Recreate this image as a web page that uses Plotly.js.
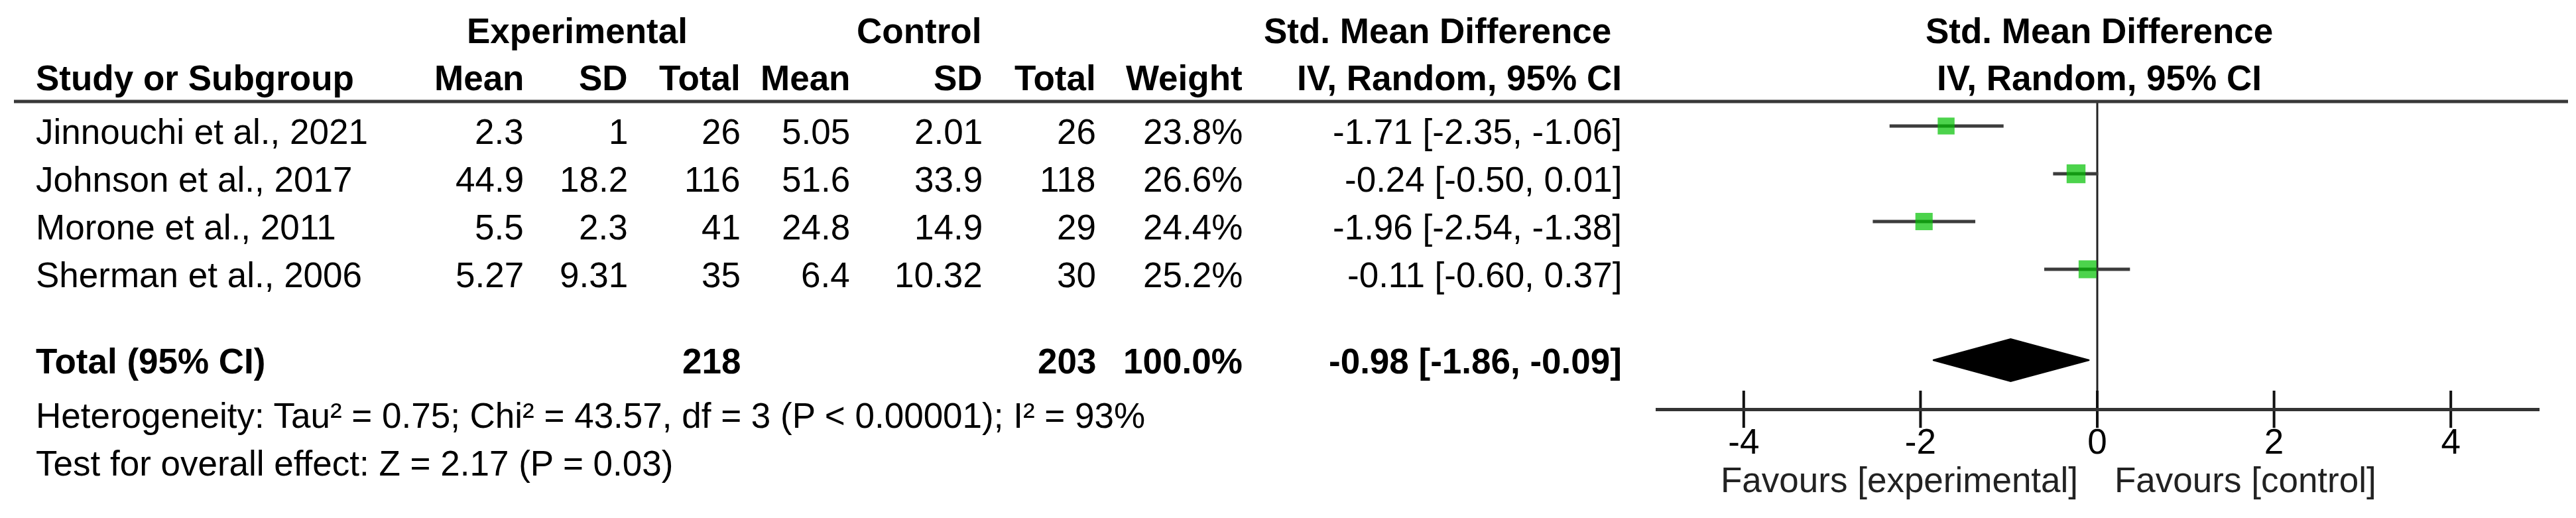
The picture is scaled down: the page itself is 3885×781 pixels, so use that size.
<!DOCTYPE html>
<html>
<head>
<meta charset="utf-8">
<script src="https://cdn.plot.ly/plotly-3.0.1.min.js"></script>
<style>html,body{margin:0;padding:0;background:#fff;}#chart{width:3885px;height:781px;}</style>
</head>
<body>
<div id="chart"></div>
<script>
// ---------- data ----------
const studies   = ['Jinnouchi et al., 2021', 'Johnson et al., 2017', 'Morone et al., 2011', 'Sherman et al., 2006'];
const expMean   = [2.3, 44.9, 5.5, 5.27];
const expSD     = [1, 18.2, 2.3, 9.31];
const expN      = [26, 116, 41, 35];
const ctlMean   = [5.05, 51.6, 24.8, 6.4];
const ctlSD     = [2.01, 33.9, 14.9, 10.32];
const ctlN      = [26, 118, 29, 30];
const weights   = [23.8, 26.6, 24.4, 25.2];
const smd       = [-1.71, -0.24, -1.96, -0.11];
const ciLow     = [-2.35, -0.50, -2.54, -0.60];
const ciHigh    = [-1.06, 0.01, -1.38, 0.37];
const totalExpN = 218;
const totalCtlN = 203;
const totalWeight = 100.0;
const totalSMD  = -0.98;
const totalLow  = -1.86;
const totalHigh = -0.09;
const heterogeneityText = 'Heterogeneity: Tau² = 0.75; Chi² = 43.57, df = 3 (P < 0.00001); I² = 93%';
const overallText = 'Test for overall effect: Z = 2.17 (P = 0.03)';
const tickVals  = [-4, -2, 0, 2, 4];
const tickText  = ['-4', '-2', '0', '2', '4'];
const favourLeft = 'Favours [experimental]';
const favourRight = 'Favours [control]';

// ---------- layout constants ----------
const W = 3885, H = 781;
const FONT = 'Liberation Sans, Arial, Helvetica, sans-serif';
const FS = 53;
const row0 = 190, rowStep = 72, textOff = 8;
const totalY = 543;
const headerLineY = 153;
const axisY = 617;
const rowY = studies.map((_, i) => row0 + i * rowStep);

const fmt2 = v => (v < 0 ? '-' : '') + Math.abs(v).toFixed(2);
const ci = (e, l, h) => fmt2(e) + ' [' + fmt2(l) + ', ' + fmt2(h) + ']';

const annotations = [];
function ann(text, x, y, anchor, bold, color) {
  annotations.push({
    text: bold ? '<b>' + text + '</b>' : text,
    x: x / W, xref: 'paper', y: y, yref: 'y',
    xanchor: anchor, yanchor: 'middle', showarrow: false,
    font: {family: FONT, size: FS, color: color || '#000'}
  });
}

// headers
const h1 = 46, h2 = 117;
ann('Experimental', 870, h1, 'center', true);
ann('Control', 1386, h1, 'center', true);
ann('Std. Mean Difference', 2168, h1, 'center', true);
ann('Std. Mean Difference', 3166, h1, 'center', true);
ann('Study or Subgroup', 52, h2, 'left', true);
ann('Mean', 792, h2, 'right', true);
ann('SD', 949, h2, 'right', true);
ann('Total', 1119, h2, 'right', true);
ann('Mean', 1284, h2, 'right', true);
ann('SD', 1484, h2, 'right', true);
ann('Total', 1655, h2, 'right', true);
ann('Weight', 1876, h2, 'right', true);
ann('IV, Random, 95% CI', 2448, h2, 'right', true);
ann('IV, Random, 95% CI', 3166, h2, 'center', true);

// study rows
studies.forEach((s, i) => {
  const y = rowY[i] + textOff;
  ann(s, 52, y, 'left');
  ann(String(expMean[i]), 792, y, 'right');
  ann(String(expSD[i]), 949, y, 'right');
  ann(String(expN[i]), 1119, y, 'right');
  ann(String(ctlMean[i]), 1284, y, 'right');
  ann(String(ctlSD[i]), 1484, y, 'right');
  ann(String(ctlN[i]), 1655, y, 'right');
  ann(weights[i].toFixed(1) + '%', 1876, y, 'right');
  ann(ci(smd[i], ciLow[i], ciHigh[i]), 2448, y, 'right');
});

// total row
ann('Total (95% CI)', 52, totalY + 1, 'left', true);
ann(String(totalExpN), 1119, totalY + 1, 'right', true);
ann(String(totalCtlN), 1655, totalY + 1, 'right', true);
ann(totalWeight.toFixed(1) + '%', 1876, totalY + 1, 'right', true);
ann(ci(totalSMD, totalLow, totalHigh), 2448, totalY + 1, 'right', true);

ann(heterogeneityText, 52, 626, 'left');
ann(overallText, 52, 698, 'left');

ann(favourLeft, 3136, 723, 'right', false, '#222');
ann(favourRight, 3187, 723, 'left', false, '#222');

// ---------- traces ----------
const traces = [];
// zero line
traces.push({x: [0, 0], y: [headerLineY, axisY], mode: 'lines', line: {color: '#222', width: 3}, hoverinfo: 'skip'});
// CI lines
const ciX = [], ciY = [];
studies.forEach((_, i) => { ciX.push(ciLow[i], ciHigh[i], null); ciY.push(rowY[i], rowY[i], null); });
traces.push({x: ciX, y: ciY, mode: 'lines', line: {color: '#3c3c3c', width: 5}, hoverinfo: 'skip'});
// squares
traces.push({x: smd, y: rowY, mode: 'markers',
  marker: {symbol: 'square', color: '#00c000', size: weights.map(w => w * 1.07), line: {width: 0}}, hoverinfo: 'skip'});
// diamond
const dh = 32;
traces.push({x: [totalLow, totalSMD, totalHigh, totalSMD, totalLow],
  y: [totalY, totalY - dh, totalY, totalY + dh, totalY],
  mode: 'lines', fill: 'toself', fillcolor: '#000', line: {color: '#000', width: 2}, hoverinfo: 'skip'});
// tick marks crossing the axis
traces.push({x: tickVals, y: tickVals.map(() => axisY), mode: 'markers',
  marker: {symbol: 'line-ns', size: 40, line: {width: 4, color: '#111'}}, hoverinfo: 'skip'});

const xDomLo = 2496.5 / W, xDomHi = 3829.5 / W;

const layout = {
  width: W, height: H, autosize: false,
  margin: {l: 0, r: 0, t: 0, b: 0, pad: 0},
  paper_bgcolor: '#fff', plot_bgcolor: 'rgba(0,0,0,0)',
  showlegend: false,
  xaxis: {
    domain: [xDomLo, xDomHi], range: [-5, 5], anchor: 'free', position: 1 - axisY / H,
    showline: true, linewidth: 5, linecolor: '#333',
    ticks: '', 
    tickvals: tickVals, ticktext: tickText,
    tickfont: {family: FONT, size: FS, color: '#000'},
    showgrid: false, zeroline: false, fixedrange: true
  },
  yaxis: {domain: [0, 1], range: [H, 0], visible: false, showgrid: false, zeroline: false, fixedrange: true},
  shapes: [{type: 'line', xref: 'paper', yref: 'y', x0: 21 / W, x1: 3873 / W, y0: headerLineY, y1: headerLineY,
    line: {color: '#383838', width: 5}}],
  annotations: annotations
};

Plotly.newPlot('chart', traces, layout, {staticPlot: true, displayModeBar: false});
</script>
</body>
</html>
